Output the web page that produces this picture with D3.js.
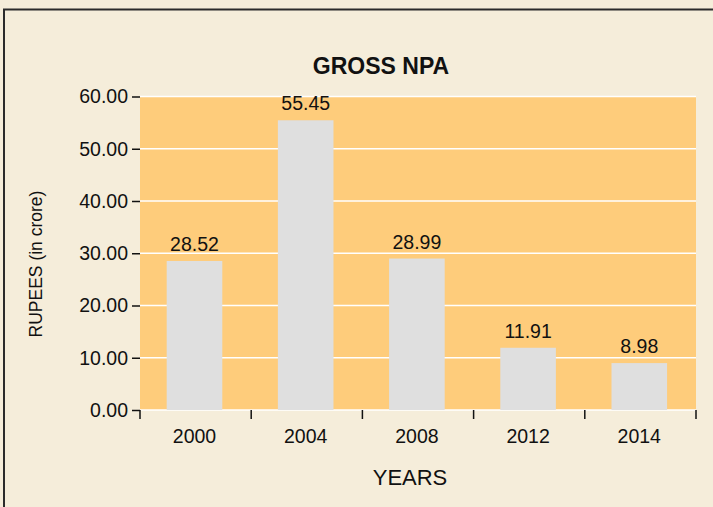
<!DOCTYPE html>
<html><head><meta charset="utf-8">
<script src="https://cdn.jsdelivr.net/npm/d3@7"></script>
<style>
html,body{margin:0;padding:0;background:#F5EDDA;}
svg{display:block;font-family:"Liberation Sans",Arial,sans-serif;}
</style></head>
<body>
<svg id="c" width="713" height="507"></svg>
<script>
const categories = ["2000","2004","2008","2012","2014"];
const values = [28.52, 55.45, 28.99, 11.91, 8.98];
const yTicks = [0,10,20,30,40,50,60];

const svg = d3.select("#c");
svg.append("rect").attr("x",0).attr("y",0).attr("width",713).attr("height",507).attr("fill","#F5EDDA");
svg.append("rect").attr("x",4).attr("y",9.5).attr("width",760).attr("height",560)
  .attr("fill","none").attr("stroke","#2b2b2b").attr("stroke-width",2);

const L=140, R=696, T=96.5, B=410;
const x = d3.scaleBand().domain(categories).range([L,R]).paddingInner(0.5).paddingOuter(0.25).align(0.48);
const y = d3.scaleLinear().domain([0,60]).range([B,T]);

svg.append("rect").attr("x",L).attr("y",T).attr("width",R-L).attr("height",B-T).attr("fill","#FECC7B");

svg.append("g").selectAll("line").data(yTicks).join("line")
  .attr("x1",L).attr("x2",R).attr("y1",d=>y(d)).attr("y2",d=>y(d))
  .attr("stroke","#ffffff").attr("stroke-width",1.5);

svg.append("g").selectAll("rect").data(values).join("rect")
  .attr("x",(d,i)=>x(categories[i])).attr("width",x.bandwidth())
  .attr("y",d=>y(d)).attr("height",d=>B-y(d)).attr("fill","#DFDFDF");

svg.append("g").selectAll("text").data(values).join("text")
  .attr("x",(d,i)=>x(categories[i])+x.bandwidth()/2).attr("y",d=>y(d)-10)
  .attr("text-anchor","middle").attr("font-size",19.5).attr("fill","#111")
  .text(d=>d.toFixed(2));

// y axis
const ya = d3.axisLeft(y).tickValues(yTicks).tickFormat(d3.format(".2f")).tickSize(8).tickPadding(4);
const yg = svg.append("g").attr("transform",`translate(${L},0)`).call(ya);
yg.select(".domain").remove();
yg.selectAll("line").attr("stroke","#111").attr("stroke-width",1.5);
yg.selectAll("text").attr("font-size",19.5).attr("fill","#111").attr("font-family","Liberation Sans, Arial, sans-serif");

// x axis ticks at category boundaries
const step = x.step();
const bounds = d3.range(categories.length + 1).map(i => L + i * step);
svg.append("g").selectAll("line").data(bounds).join("line")
  .attr("x1",d=>d).attr("x2",d=>d).attr("y1",B).attr("y2",B+9)
  .attr("stroke","#111").attr("stroke-width",1.5);
svg.append("g").selectAll("text").data(categories).join("text")
  .attr("x",d=>x(d)+x.bandwidth()/2).attr("y",443)
  .attr("text-anchor","middle").attr("font-size",19.5).attr("fill","#111").text(d=>d);

svg.append("text").attr("x",381).attr("y",74).attr("text-anchor","middle")
  .attr("font-size",23).attr("font-weight","bold").attr("fill","#111").text("GROSS NPA");
svg.append("text").attr("x",410).attr("y",485).attr("text-anchor","middle")
  .attr("font-size",22).attr("fill","#111").text("YEARS");
svg.append("text").attr("transform","translate(42,264) rotate(-90)").attr("text-anchor","middle")
  .attr("font-size",17.5).attr("fill","#111").text("RUPEES (in crore)");
</script>
</body></html>
